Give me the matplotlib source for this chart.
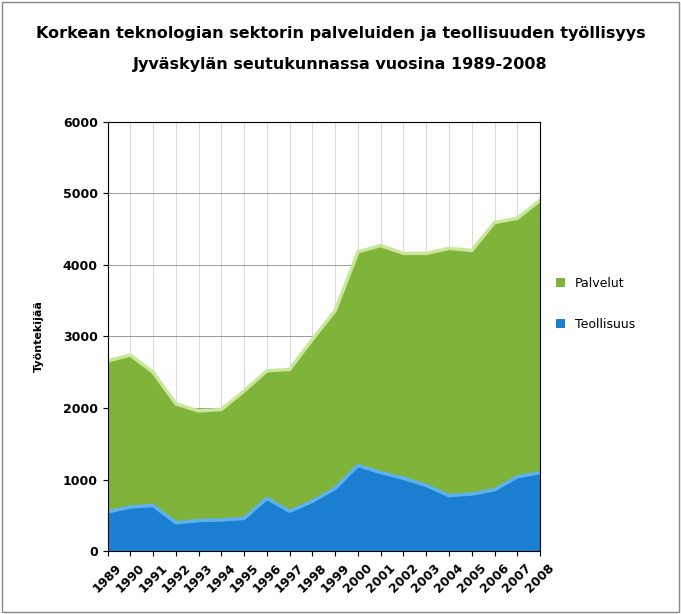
import matplotlib.pyplot as plt
import numpy as np

years = [str(y) for y in range(1989, 2009)]
teollisuus = [550, 620, 640, 400, 430, 440, 460, 740, 560, 700,
              880, 1200, 1100, 1020, 920, 780, 800, 860, 1040, 1100]
yhteensa = [2660, 2740, 2500, 2060, 1960, 1980, 2240, 2520, 2540, 2960,
            3360, 4180, 4270, 4160, 4160, 4230, 4200, 4590, 4650, 4900]
palvelut = [t - i for t, i in zip(yhteensa, teollisuus)]

fig = plt.figure(figsize=(6.81, 6.14), dpi=100)
ax = fig.add_axes([0.158, 0.102, 0.635, 0.7])

x = np.arange(len(years))
ax.stackplot(x, teollisuus, palvelut, colors=["#1a7fd0", "#7fb339"],
             labels=["Teollisuus", "Palvelut"])
ax.plot(x, teollisuus, color="#5fb0ee", lw=2.5)
ax.plot(x, yhteensa, color="#c9e79a", lw=2.5)

ax.set_xlim(0, len(years) - 1)
ax.set_ylim(0, 6000)
ax.set_yticks(range(0, 6001, 1000))
ax.set_xticks(x)
ax.set_xticklabels(years, rotation=45, fontsize=9, fontweight="bold")
ax.tick_params(axis="y", labelsize=9)
for lbl in ax.get_yticklabels():
    lbl.set_fontweight("bold")
ax.grid(axis="y", color="#888888", lw=0.6)
ax.grid(axis="x", color="#bbbbbb", lw=0.4)
ax.set_axisbelow(True)
ax.set_ylabel("Työntekijää", fontsize=8, fontweight="bold", labelpad=14)

handles, labels = ax.get_legend_handles_labels()
fig.legend(handles[::-1], labels[::-1], loc="center left",
           bbox_to_anchor=(0.80, 0.505), frameon=False, fontsize=9,
           handlelength=0.7, handleheight=0.7, labelspacing=2.2)

fig.text(0.5, 0.945, "Korkean teknologian sektorin palveluiden ja teollisuuden työllisyys",
         ha="center", va="center", fontsize=11.5, fontweight="bold")
fig.text(0.5, 0.895, "Jyväskylän seutukunnassa vuosina 1989-2008",
         ha="center", va="center", fontsize=11.5, fontweight="bold")

fig.patches.append(plt.Rectangle((0.003, 0.003), 0.994, 0.994, transform=fig.transFigure,
                                 fill=False, edgecolor="#888888", lw=1))
fig.savefig("out.png", dpi=100)
